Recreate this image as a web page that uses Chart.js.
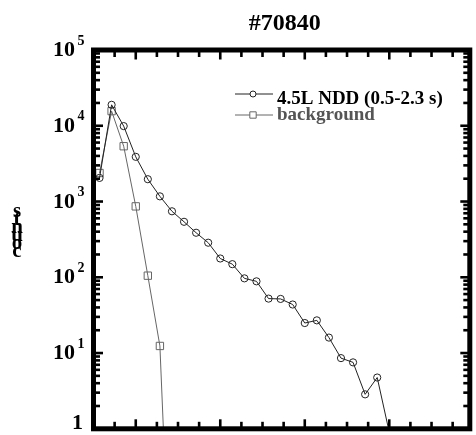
<!DOCTYPE html>
<html>
<head>
<meta charset="utf-8">
<script src="https://cdn.jsdelivr.net/npm/chart.js@4.4.0/dist/chart.umd.min.js"></script>
<style>
  html, body { margin: 0; padding: 0; background: #fff; }
  #wrap { width: 476px; height: 435px; position: relative; }
</style>
</head>
<body>
<div id="wrap"><canvas id="chart"></canvas></div>
<script>
// channel index of each bin
const channels = [0, 1, 2, 3, 4, 5, 6, 7, 8, 9, 10, 11, 12, 13, 14, 15, 16, 17, 18, 19, 20, 21, 22, 23, 24];
// 4.5L NDD (0.5-2.3 s)
const nddCounts = [2050, 18900, 9900, 3890, 1970, 1170, 743, 540, 387, 286, 177, 149, 96.8, 88.4,
                   52.3, 51.8, 43.7, 24.9, 27.0, 16.0, 8.57, 7.53, 2.85, 4.75, 0.9];
// background
const bgCounts = [2380, 15600, 5370, 863, 105, 12.4, 0.002];
const yDecades = [0, 1, 2, 3, 4, 5];
const xMajorTicks = [3, 10, 17, 24];
const xMinorStep = 1.75;

const SERIF = "'Liberation Serif', 'Times New Roman', serif";

function toPoints(ys) {
    return ys.map((v, i) => ({ x: channels[i], y: v }));
}

function seg(ctx, x1, y1, x2, y2) {
    ctx.beginPath();
    ctx.moveTo(x1, y1);
    ctx.lineTo(x2, y2);
    ctx.stroke();
}

const framePlugin = {
    id: 'frame',
    afterDatasetsDraw(chart) {
        const ctx = chart.ctx;
        const a = chart.chartArea;
        const x = chart.scales.x, y = chart.scales.y;
        ctx.save();
        ctx.strokeStyle = '#000';
        ctx.lineWidth = 2.6;

        // log ticks, left and right
        for (let n = 0; n < 5; n++) {
            for (let m = 1; m < 10; m++) {
                const py = y.getPixelForValue(m * Math.pow(10, n));
                const len = m === 1 ? 9.5 : 6.5;
                seg(ctx, a.left, py, a.left + len, py);
                seg(ctx, a.right, py, a.right - len, py);
            }
        }
        // x ticks, top and bottom
        for (let v = x.min; v <= x.max; v += xMinorStep) {
            const px = x.getPixelForValue(v);
            const len = xMajorTicks.includes(v) ? 9.5 : 7;
            seg(ctx, px, a.bottom, px, a.bottom - len);
            seg(ctx, px, a.top, px, a.top + len);
        }

        ctx.lineWidth = 5;
        ctx.strokeRect(a.left, a.top, a.right - a.left, a.bottom - a.top);

        // y tick labels
        ctx.fillStyle = '#000';
        ctx.textAlign = 'right';
        ctx.textBaseline = 'alphabetic';
        yDecades.forEach(n => {
            const py = y.getPixelForValue(Math.pow(10, n));
            if (n === 0) {
                ctx.font = 'bold 22px ' + SERIF;
                ctx.fillText('1', 83, py + 0.5);
                return;
            }
            ctx.font = 'bold 22px ' + SERIF;
            ctx.fillText('10', 75, py + 6);
            ctx.font = 'bold 14px ' + SERIF;
            ctx.fillText(String(n), 84.5, py - 5.5);
        });

        // y axis title, letters stacked upright
        ctx.textAlign = 'center';
        ctx.font = 'bold 21px ' + SERIF;
        const word = 'counts';
        for (let i = 0; i < word.length; i++) {
            ctx.fillText(word[i], 17, 257 - i * 8);
        }

        // title
        ctx.font = 'bold 24px ' + SERIF;
        ctx.fillText('#70840', (a.left + a.right) / 2 + 3, 30);

        // legend
        ctx.textAlign = 'left';
        ctx.font = 'bold 19px ' + SERIF;
        const rows = [{ ly: 94, ty: 104.3 }, { ly: 115, ty: 120 }];
        chart.data.datasets.forEach((ds, i) => {
            const r = rows[i];
            ctx.strokeStyle = ds.borderColor;
            ctx.lineWidth = 1;
            seg(ctx, 235, r.ly, 273, r.ly);
            ctx.fillStyle = '#fff';
            Chart.helpers.drawPoint(ctx, {
                pointStyle: ds.pointStyle, radius: ds.legendRadius, borderWidth: 1
            }, 253, r.ly);
            ctx.fillStyle = ds.legendTextColor;
            ctx.fillText(ds.label, 277, r.ty);
        });
        ctx.restore();
    }
};

new Chart(document.getElementById('chart'), {
    type: 'line',
    data: {
        datasets: [
            {
                label: '4.5L NDD (0.5-2.3 s)',
                data: toPoints(nddCounts),
                borderColor: '#222',
                borderWidth: 1,
                pointStyle: 'circle',
                pointRadius: 3.6,
                legendRadius: 3,
                pointBorderColor: '#222',
                pointBackgroundColor: 'rgba(0,0,0,0)',
                pointBorderWidth: 1,
                legendTextColor: '#000',
                tension: 0
            },
            {
                label: 'background',
                data: toPoints(bgCounts),
                borderColor: '#666',
                borderWidth: 1,
                pointStyle: 'rect',
                pointRadius: 5.2,
                legendRadius: 4.5,
                pointBorderColor: '#666',
                pointBackgroundColor: 'rgba(0,0,0,0)',
                pointBorderWidth: 1,
                legendTextColor: '#555',
                tension: 0
            }
        ]
    },
    options: {
        responsive: true,
        maintainAspectRatio: false,
        animation: false,
        layout: { padding: { left: 93.5, right: 4, top: 50, bottom: 2.5 } },
        plugins: {
            legend: { display: false },
            title: { display: false },
            tooltip: { enabled: false }
        },
        scales: {
            x: { type: 'linear', min: -0.5, max: 30.67, display: false },
            y: { type: 'logarithmic', min: 1, max: 100000, display: false }
        }
    },
    plugins: [framePlugin]
});
</script>
</body>
</html>
